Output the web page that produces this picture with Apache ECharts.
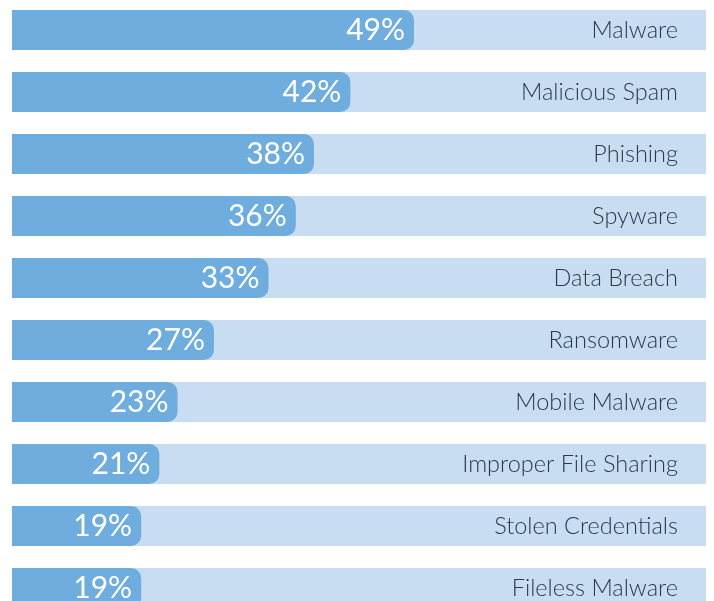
<!DOCTYPE html>
<html>
<head>
<meta charset="utf-8">
<script src="https://cdn.jsdelivr.net/npm/echarts@6/dist/echarts.min.js"></script>
<style>
  html, body { margin: 0; padding: 0; background: #fff; }
  #chart { width: 714px; height: 601px; }
</style>
</head>
<body>
<div id="chart"></div>
<script>
// threat categories, top to bottom
var categories = ['Malware', 'Malicious Spam', 'Phishing', 'Spyware', 'Data Breach',
  'Ransomware', 'Mobile Malware', 'Improper File Sharing', 'Stolen Credentials', 'Fileless Malware']
var percents = [49, 42, 38, 36, 33, 27, 23, 21, 19, 19]

var myChart = echarts.init(document.getElementById('chart'))
var option = {
  animation: false,
  grid: {
    top: -1,
    left: 12,
    right: 8,
    height: 620,
    outerBoundsMode: 'none',
    containLabel: false
  },
  xAxis: {
    type: 'value',
    min: 4.8,
    max: 81.1,
    show: false
  },
  yAxis: {
    type: 'category',
    data: categories,
    inverse: true,
    position: 'right',
    axisLine: { show: false },
    axisTick: { show: false },
    axisLabel: {
      inside: true,
      margin: 28,
      color: '#2b3a4a',
      fontSize: 23.5,
      fontFamily: 'Lato',
      fontWeight: 300
    },
    z: 10
  },
  series: [
    {
      type: 'bar',
      data: percents,
      barWidth: 40,
      showBackground: true,
      backgroundStyle: {
        color: '#c8ddf1'
      },
      itemStyle: {
        color: '#6eaddd',
        borderRadius: [0, 10, 10, 0]
      },
      label: {
        show: true,
        position: 'insideRight',
        distance: 9,
        formatter: '{c}%',
        color: '#fff',
        fontSize: 30,
        fontFamily: 'Lato',
        fontWeight: 'normal'
      }
    }
  ]
}
option && myChart.setOption(option)
</script>
</body>
</html>
